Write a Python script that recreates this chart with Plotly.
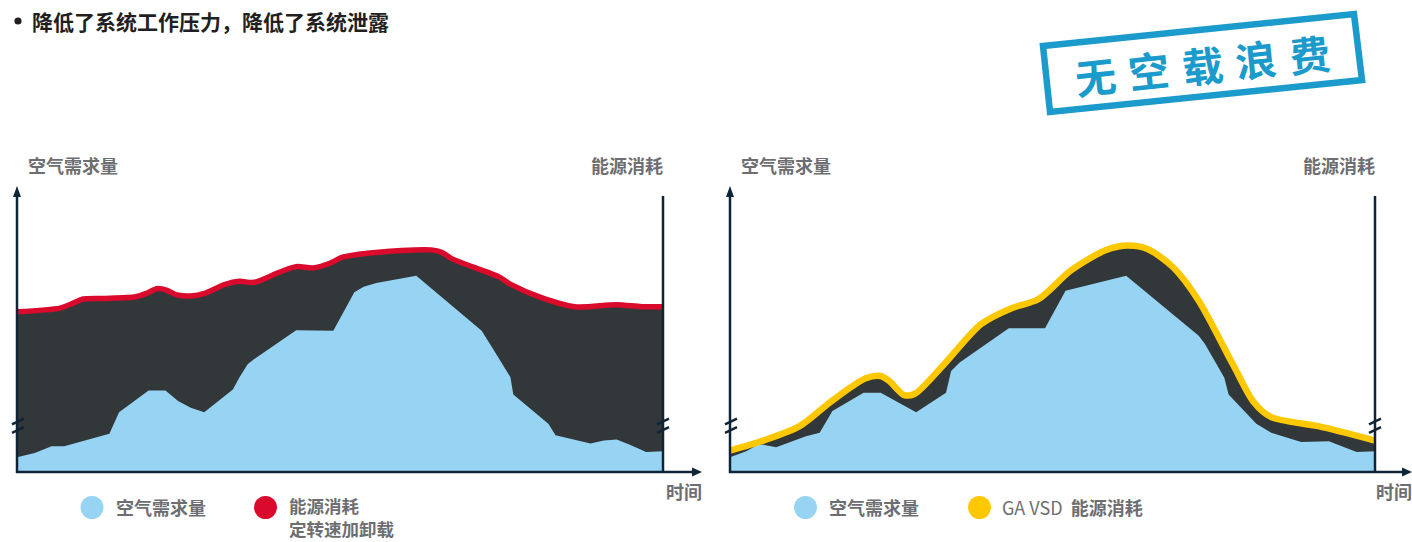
import plotly.graph_objects as go

W, H = 1412, 542

# ---------------- data ----------------
title_text = "降低了系统工作压力，降低了系统泄露"
stamp_chars = ["无", "空", "载", "浪", "费"]
y_label = "空气需求量"
y2_label = "能源消耗"
x_label = "时间"
legend_demand = "空气需求量"
legend_left_energy = ["能源消耗", "定转速加卸载"]
legend_right_energy = ["GA VSD", "能源消耗"]

# Left chart: fixed speed load/unload
left_demand_t = [0, 2.74, 5.35, 7.31, 14.30, 15.80, 20.37, 22.98, 24.93, 26.89, 28.98,
                 33.42, 34.40, 35.70, 36.68, 43.21, 48.96, 52.22, 53.66, 55.61, 61.81,
                 70.63, 71.93, 73.89, 76.37, 76.83, 80.42, 82.25, 83.36, 88.77, 90.86,
                 92.82, 94.78, 97.39, 100]
left_demand = [5.18, 6.71, 9.07, 9.07, 13.43, 21.08, 28.74, 28.74, 24.97, 22.61, 21.08,
               29.09, 33.22, 37.93, 39.69, 49.94, 49.71, 63.25, 65.25, 66.55, 69.14,
               52.30, 49.71, 42.64, 33.45, 27.33, 20.26, 16.96, 12.96, 10.01, 11.07,
               11.43, 9.66, 7.07, 7.30]

left_energy_t = [0, 6.66, 8.62, 10.25, 13.19, 18.41, 20.04, 21.67, 23.11, 24.61, 26.89,
                 29.18, 32.11, 34.40, 36.68, 40.60, 43.21, 45.82, 48.43, 50.39, 54.31,
                 61.49, 64.10, 65.73, 67.36, 74.54, 76.50, 81.07, 86.29, 92.82, 96.74, 100]
left_energy = [56.42, 57.71, 59.36, 60.90, 61.13, 61.72, 62.90, 64.55, 64.08, 62.43, 61.96,
               63.02, 65.96, 67.14, 66.78, 70.32, 72.32, 71.85, 73.50, 75.62, 77.03,
               78.21, 78.21, 77.39, 75.03, 68.79, 65.96, 61.48, 58.19, 58.89, 58.19, 58.19]

# Right chart: GA VSD
right_demand_t = [0, 2.51, 4.50, 7.15, 11.78, 13.90, 15.88, 20.71, 23.36, 28.86, 33.49,
                  34.28, 35.61, 43.22, 48.84, 52.02, 61.42, 72.67, 73.66, 76.64, 77.30,
                  81.60, 83.92, 88.55, 92.85, 97.15, 100]
right_demand = [5.18, 7.30, 9.89, 8.72, 12.60, 13.78, 21.44, 27.92, 27.92, 21.08, 27.92,
                35.57, 38.52, 50.65, 50.65, 63.84, 69.14, 47.94, 44.99, 33.22, 27.33,
                16.96, 13.78, 10.60, 10.84, 7.07, 7.30]

right_energy_t = [0, 5.16, 10.79, 15.75, 21.05, 23.36, 24.69, 27.00, 28.66, 32.96, 38.91,
                  43.55, 47.85, 52.81, 58.11, 61.42, 64.73, 68.70, 72.67, 77.96, 81.27,
                  83.92, 91.20, 100]
right_energy = [7.54, 11.07, 16.14, 24.97, 32.98, 33.80, 32.04, 27.09, 27.56, 37.34, 52.06,
                57.60, 60.90, 70.91, 77.97, 79.74, 78.56, 72.08, 60.31, 37.93, 24.38,
                19.32, 16.14, 11.07]

# ---------------- styles ----------------
C_BLUE = "#97d4f3"
C_DARK = "#323739"
C_RED = "#d90a2c"
C_YEL = "#fdc800"
C_AXIS = "#0f2436"
C_TEXT = "#6d6e71"
C_TITLE = "#231f20"
C_STAMP = "#1a9bcb"
FONT = "Noto Sans CJK SC"


def fx(x):
    return x / W


def fy(y):
    return 1 - y / H


fig = go.Figure()

for (xa, ya, t_d, d, t_e, e, ecol, ew) in [
    ("x", "y", left_demand_t, left_demand, left_energy_t, left_energy, C_RED, 5.5),
    ("x2", "y2", right_demand_t, right_demand, right_energy_t, right_energy, C_YEL, 6.5),
]:
    fig.add_trace(go.Scatter(x=t_e, y=e, xaxis=xa, yaxis=ya, mode="lines",
                             line=dict(width=0, shape="spline", smoothing=0.8),
                             fill="tozeroy", fillcolor=C_DARK, hoverinfo="skip",
                             showlegend=False))
    fig.add_trace(go.Scatter(x=t_d, y=d, xaxis=xa, yaxis=ya, mode="lines",
                             line=dict(width=0), fill="tozeroy", fillcolor=C_BLUE,
                             hoverinfo="skip", showlegend=False))
    fig.add_trace(go.Scatter(x=t_e, y=e, xaxis=xa, yaxis=ya, mode="lines",
                             line=dict(width=ew, color=ecol, shape="spline", smoothing=0.8),
                             hoverinfo="skip", showlegend=False))

ax_common = dict(visible=False, fixedrange=True)
fig.update_layout(
    width=W, height=H,
    margin=dict(l=0, r=0, t=0, b=0),
    paper_bgcolor="white", plot_bgcolor="rgba(0,0,0,0)",
    xaxis=dict(domain=[fx(17), fx(663)], range=[0, 100], **ax_common),
    yaxis=dict(domain=[fy(472), fy(188)], range=[0, 100], **ax_common),
    xaxis2=dict(domain=[fx(730), fx(1375)], range=[0, 100], anchor="y2", **ax_common),
    yaxis2=dict(domain=[fy(472), fy(188)], range=[0, 100], anchor="x2", **ax_common),
    showlegend=False,
    font=dict(family=FONT),
)

shapes = []


def line(x0, y0, x1, y1, color=C_AXIS, width=2.5):
    shapes.append(dict(type="line", xref="paper", yref="paper",
                       x0=fx(x0), y0=fy(y0), x1=fx(x1), y1=fy(y1),
                       line=dict(color=color, width=width), layer="above"))


def tri(pts, color=C_AXIS):
    p = "M " + " L ".join(f"{fx(a):.6f},{fy(b):.6f}" for a, b in pts) + " Z"
    shapes.append(dict(type="path", xref="paper", yref="paper", path=p,
                       fillcolor=color, line=dict(width=0), layer="above"))


def circle(cx, cy, r, col):
    shapes.append(dict(type="circle", xref="paper", yref="paper",
                       x0=fx(cx - r), x1=fx(cx + r), y0=fy(cy + r), y1=fy(cy - r),
                       fillcolor=col, line=dict(width=0)))


for (xl, xr, xend) in [(17, 663, 702), (730, 1375, 1412)]:
    # y axis with arrow
    line(xl, 473, xl, 196)
    tri([(xl, 186), (xl - 4, 197), (xl + 4, 197)])
    # right vertical line
    line(xr, 473, xr, 196)
    # x axis with arrow
    line(xl - 1, 472, xend - 9, 472)
    tri([(xend, 472), (xend - 10, 467.5), (xend - 10, 476.5)])
    # break marks
    for xc in (xl + 1, xr):
        for yc in (421.5, 430):
            line(xc - 6, yc + 2.8, xc + 6, yc - 2.8, width=2.5)

# legend circles
for cx, col in [(92, C_BLUE), (265.5, C_RED), (805.5, C_BLUE), (979.5, C_YEL)]:
    circle(cx, 507.5, 11.5, col)

# title bullet
circle(18, 21, 3.6, C_TITLE)

# stamp frame (rotated rectangle)
stamp_pts = [(1043, 46), (1354, 14), (1362, 80), (1050, 112)]
p = "M " + " L ".join(f"{fx(a):.6f},{fy(b):.6f}" for a, b in stamp_pts) + " Z"
shapes.append(dict(type="path", xref="paper", yref="paper", path=p,
                   line=dict(color=C_STAMP, width=6.5), fillcolor="rgba(0,0,0,0)"))

fig.update_layout(shapes=shapes)

ann = []


def text(x, y, s, size=18, color=C_TEXT, xanchor="left", angle=0, align="left"):
    ann.append(dict(x=fx(x), y=fy(y), xref="paper", yref="paper", text=s, showarrow=False,
                    xanchor=xanchor, yanchor="middle", textangle=angle, borderpad=0,
                    align=align, font=dict(family=FONT, size=size, color=color)))


# title
text(31, 21, f"<b>{title_text}</b>", size=21, color=C_TITLE)

# axis labels
for (xl, xr, xend) in [(17, 663, 702), (730, 1375, 1412)]:
    text(xl + 10, 165, f"<b>{y_label}</b>", size=18)
    text(xr + 1, 165, f"<b>{y2_label}</b>", size=18, xanchor="right")
    text(xend + 1, 491, f"<b>{x_label}</b>", size=18, xanchor="right")

# legends
text(115, 507, f"<b>{legend_demand}</b>", size=18)
text(288, 516.5, f"<b>{legend_left_energy[0]}</b><br><b>{legend_left_energy[1]}</b>", size=17.5)
text(828, 507, f"<b>{legend_demand}</b>", size=18)
text(1001, 507, f"{legend_right_energy[0]}  <b>{legend_right_energy[1]}</b>", size=18)

# stamp text, one character at a time along a tilted baseline
for i, ch in enumerate(stamp_chars):
    text(1095 + i * 53.5, 75 - i * 5.6, f"<b>{ch}</b>", size=41, color=C_STAMP,
         xanchor="center", angle=-6)

fig.update_layout(annotations=ann)

fig.write_html("out.html")
